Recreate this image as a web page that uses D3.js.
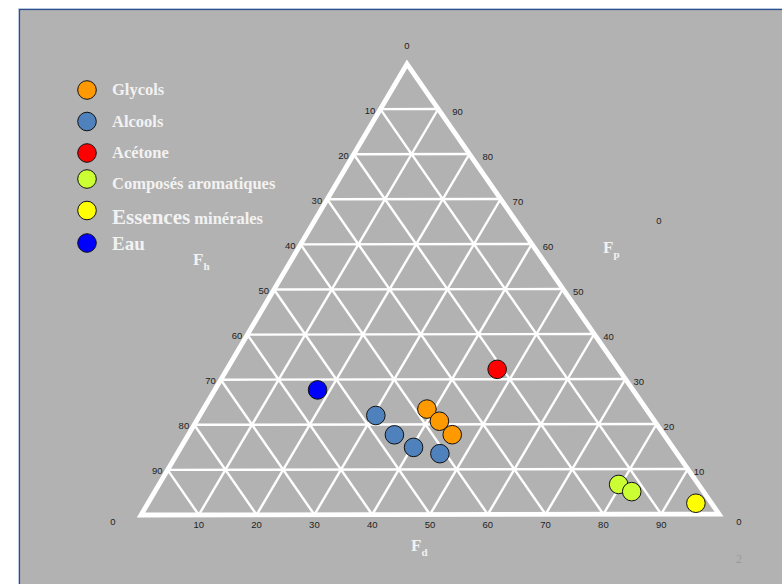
<!DOCTYPE html>
<html><head><meta charset="utf-8">
<script src="https://cdn.jsdelivr.net/npm/d3@7"></script>
<style>body{margin:0;background:#fff;overflow:hidden}</style>
</head><body>
<svg id="c" width="782" height="584"></svg>
<script>
// ---- data (Fd, Fp in %, Fh = 100 - Fd - Fp) ----
const categories = ["Glycols", "Alcools", "Acétone", "Composés aromatiques", "Essences minérales", "Eau"];
const colors = ["#ff9900", "#4f81bd", "#ff0000", "#ccff33", "#ffff00", "#0000ff"];
const glycolsFd = [38.7, 42.1, 45.7];
const glycolsFp = [23.4, 20.7, 17.7];
const alcoolsFd = [30.5, 35.7, 40.3, 45.5];
const alcoolsFp = [22.0, 17.7, 14.9, 13.5];
const acetoneFd = [46.8];
const acetoneFp = [32.2];
const aromatiquesFd = [79.6, 82.6];
const aromatiquesFp = [6.6, 5.0];
const essencesFd = [94.9];
const essencesFp = [2.4];
const eauFd = [17.8];
const eauFp = [27.7];
const tickValues = [10, 20, 30, 40, 50, 60, 70, 80, 90];
const leftTickLabels = ["90", "80", "70", "60", "50", "40", "30", "20", "10"];   // Fh, along left edge (bottom -> top)
const rightTickLabels = ["10", "20", "30", "40", "50", "60", "70", "80", "90"];  // Fp, along right edge (bottom -> top)
const bottomTickLabels = ["10", "20", "30", "40", "50", "60", "70", "80", "90"]; // Fd, along base

const seriesFd = [glycolsFd, alcoolsFd, acetoneFd, aromatiquesFd, essencesFd, eauFd];
const seriesFp = [glycolsFp, alcoolsFp, acetoneFp, aromatiquesFp, essencesFp, eauFp];

// ---- layout ----
const svg = d3.select("#c");
const BL = [141, 515], BR = [719, 514], AP = [407, 64];
const fdX = d3.scaleLinear().domain([0, 100]).range([0, BR[0] - BL[0]]);
const fdY = d3.scaleLinear().domain([0, 100]).range([0, BR[1] - BL[1]]);
const fpX = d3.scaleLinear().domain([0, 100]).range([0, AP[0] - BL[0]]);
const fpY = d3.scaleLinear().domain([0, 100]).range([0, AP[1] - BL[1]]);
const proj = (fd, fp) => [BL[0] + fdX(fd) + fpX(fp), BL[1] + fdY(fd) + fpY(fp)];

// page background
svg.append("rect").attr("x", 18).attr("y", 8).attr("width", 800).attr("height", 600)
  .attr("fill", "#c9d6ea");
svg.append("rect").attr("x", 19.5).attr("y", 9.5).attr("width", 800).attr("height", 600)
  .attr("fill", "#b2b2b2").attr("stroke", "#2f4f8a").attr("stroke-width", 1.2);

const g = svg.append("g");
const line = d3.line();
tickValues.forEach(v => {
  g.append("path").attr("d", line([proj(0, v), proj(100 - v, v)]));
  g.append("path").attr("d", line([proj(v, 0), proj(v, 100 - v)]));
  g.append("path").attr("d", line([proj(100 - v, 0), proj(0, 100 - v)]));
});
g.selectAll("path").attr("stroke", "#fff").attr("stroke-width", 2.4).attr("fill", "none");
svg.append("path").attr("d", line([proj(0, 0), proj(100, 0), proj(0, 100)]) + "Z")
  .attr("fill", "none").attr("stroke", "#fff").attr("stroke-width", 4.8).attr("stroke-linejoin", "miter");

// tick labels
const tl = svg.append("g").attr("font-family", "Liberation Sans, Arial, sans-serif")
  .attr("font-size", 9.5).attr("fill", "#1e1e1e");
tickValues.forEach((v, i) => {
  const pl = proj(0, v);
  tl.append("text").attr("x", pl[0] - 5).attr("y", pl[1] + 1).attr("text-anchor", "end")
    .attr("dominant-baseline", "central").text(leftTickLabels[i]);
  const pr = proj(100 - v, v);
  tl.append("text").attr("x", pr[0] + 5 + v * 0.1).attr("y", pr[1] + 2).attr("text-anchor", "start")
    .attr("dominant-baseline", "central").text(rightTickLabels[i]);
  const pb = proj(v, 0);
  tl.append("text").attr("x", pb[0]).attr("y", pb[1] + 10).attr("text-anchor", "middle")
    .attr("dominant-baseline", "central").text(bottomTickLabels[i]);
});
[[proj(0, 0), -28, 6], [proj(100, 0), 20, 7], [proj(0, 100), 0, -19]].forEach(([p, dx, dy]) => {
  tl.append("text").attr("x", p[0] + dx).attr("y", p[1] + dy).attr("text-anchor", "middle")
    .attr("dominant-baseline", "central").text("0");
});
tl.append("text").attr("x", 659).attr("y", 220).attr("text-anchor", "middle")
  .attr("dominant-baseline", "central").text("0");

// axis titles
const titleFont = "Liberation Serif, Times New Roman, serif";
function axisTitle(x, y, sub) {
  const t = svg.append("text").attr("x", x).attr("y", y).attr("font-family", titleFont)
    .attr("font-weight", "bold").attr("font-size", 17).attr("fill", "#f2f2f2");
  t.append("tspan").text("F");
  t.append("tspan").attr("font-size", 11).attr("dy", 5).text(sub);
}
axisTitle(193, 265, "h");
axisTitle(603, 253, "p");
axisTitle(411, 551, "d");

// points
const pts = svg.append("g");
seriesFd.forEach((arr, si) => {
  arr.forEach((fd, j) => {
    const p = proj(fd, seriesFp[si][j]);
    pts.append("circle").attr("cx", p[0]).attr("cy", p[1]).attr("r", 9.3)
      .attr("fill", colors[si]).attr("stroke", "#111").attr("stroke-width", 1);
  });
});

// legend
const legY = [90, 121.5, 153, 179, 210.5, 243];
const leg = svg.append("g");
categories.forEach((c, i) => {
  leg.append("circle").attr("cx", 87).attr("cy", legY[i]).attr("r", 9.3)
    .attr("fill", colors[i]).attr("stroke", "#111").attr("stroke-width", 1);
});
const lt = (x, y, size) => leg.append("text").attr("x", x).attr("y", y).attr("font-family", titleFont)
  .attr("font-weight", "bold").attr("font-size", size).attr("fill", "#f2f2f2");
lt(112, 95, 16.5).text(categories[0]);
lt(112, 126.5, 16.5).text(categories[1]);
lt(112, 158, 16.5).text(categories[2]);
lt(112, 188.5, 16.5).text(categories[3]);
const ess = lt(112, 224, 21);
ess.append("tspan").text("Essences");
ess.append("tspan").attr("font-size", 16.5).text(" minérales");
lt(112, 250, 19).text(categories[5]);

// page number
svg.append("text").attr("x", 739).attr("y", 563).attr("text-anchor", "middle")
  .attr("font-family", titleFont).attr("font-size", 12).attr("fill", "#9a9a9a").text("2");
</script>
</body></html>
